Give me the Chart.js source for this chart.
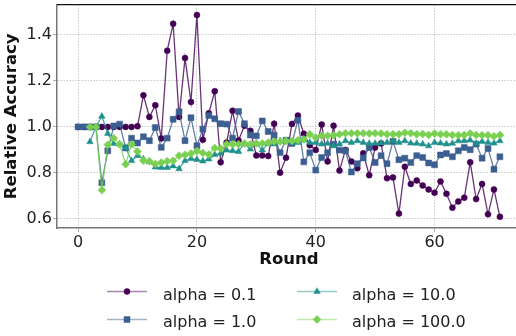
<!DOCTYPE html>
<html><head><meta charset="utf-8">
<script src="https://cdn.jsdelivr.net/npm/chart.js@4/dist/chart.umd.min.js"></script>
<style>html,body{margin:0;padding:0;background:#fff;overflow:hidden;width:516px;height:336px;}#wrap{width:516px;height:336px;overflow:hidden;position:relative;}canvas{display:block;}</style>
</head><body><div id="wrap"><canvas id="c" width="526" height="336"></canvas></div>
<script>
const rounds = [0,1,2,3,4,5,6,7,8,9,10,11,12,13,14,15,16,17,18,19,20,21,22,23,24,25,26,27,28,29,30,31,32,33,34,35,36,37,38,39,40,41,42,43,44,45,46,47,48,49,50,51,52,53,54,55,56,57,58,59,60,61,62,63,64,65,66,67,68,69,70,71];
const alpha01 = [1.0,1.0,1.0,1.0,1.0,1.0,1.0,1.0,1.0,1.0,
 1.003,1.137,1.043,1.094,0.95,1.331,1.448,1.043,1.299,1.108,
 1.486,0.944,1.059,1.155,0.846,0.932,1.07,0.941,1.005,0.983,
 0.876,0.876,0.873,1.014,0.801,0.866,1.013,1.049,0.97,0.92,
 0.9,1.01,0.85,1.005,0.81,0.9,0.85,0.82,0.885,0.79,
 0.91,0.928,0.777,0.78,0.623,0.827,0.752,0.767,0.745,0.728,
 0.714,0.763,0.709,0.649,0.676,0.692,0.846,0.686,0.752,0.62,
 0.728,0.609];
const alpha1 = [1.0,1.0,1.0,1.0,0.757,0.896,1.004,1.012,0.908,0.951,
 0.93,0.957,0.94,0.997,0.911,0.951,1.033,1.066,0.94,1.04,
 0.918,0.99,1.049,1.035,1.014,1.012,0.951,1.067,1.014,0.965,
 0.961,1.026,0.98,0.964,0.888,0.942,0.928,1.029,0.848,0.888,
 0.812,0.867,0.888,0.925,0.899,0.896,0.804,0.84,0.865,0.91,
 0.845,0.875,0.84,0.937,0.857,0.864,0.845,0.875,0.867,0.843,
 0.835,0.878,0.884,0.87,0.896,0.91,0.901,0.925,0.864,0.906,
 0.816,0.87];
const alpha10 = [null,null,0.935,1.0,1.046,0.971,0.927,0.925,0.91,0.853,
 0.875,0.86,0.848,0.825,0.823,0.823,0.83,0.818,0.853,0.862,
 0.858,0.851,0.86,0.879,0.885,0.899,0.896,0.893,0.928,0.903,
 0.928,0.899,0.928,0.925,0.939,0.936,0.932,0.932,0.942,0.932,
 0.932,0.925,0.928,0.917,0.925,0.939,0.932,0.939,0.932,0.928,
 0.928,0.93,0.932,0.939,0.932,0.939,0.929,0.928,0.925,0.917,
 0.932,0.929,0.925,0.928,0.939,0.939,0.942,0.928,0.936,0.932,
 0.929,0.939];
const alpha100 = [null,null,1.0,1.0,0.726,0.922,0.951,0.924,0.838,0.924,
 0.893,0.853,0.851,0.839,0.845,0.851,0.853,0.875,0.879,0.884,
 0.895,0.886,0.88,0.908,0.905,0.925,0.925,0.925,0.928,0.925,
 0.928,0.928,0.932,0.936,0.936,0.939,0.939,0.942,0.946,0.968,
 0.954,0.961,0.961,0.964,0.968,0.972,0.972,0.972,0.972,0.971,
 0.972,0.971,0.968,0.968,0.968,0.975,0.972,0.968,0.969,0.965,
 0.971,0.968,0.968,0.965,0.964,0.965,0.971,0.965,0.964,0.964,
 0.959,0.965];
const seriesLabels = ['alpha = 0.1','alpha = 1.0','alpha = 10.0','alpha = 100.0'];
const xTicks = [0,20,40,60];
const yTicks = [0.6,0.8,1.0,1.2,1.4];

const FONT = "'DejaVu Sans', 'Liberation Sans', sans-serif";
const styles = [
  {color:'#440154', line:'rgba(68,1,84,0.8)', point:'circle', r:3},
  {color:'#3b5f91', line:'rgba(59,95,145,0.8)', point:'rect', r:4.2},
  {color:'#21918c', line:'rgba(33,145,140,0.8)', point:'triangle', r:3.8},
  {color:'#7ad151', line:'rgba(122,209,81,0.8)', point:'rectRot', r:4}
];
const seriesData = [alpha01, alpha1, alpha10, alpha100];

const datasets = seriesData.map((vals,k)=>({
  label: seriesLabels[k],
  data: rounds.map((r,i)=>({x:r, y:vals[i]})),
  borderColor: styles[k].line,
  backgroundColor: styles[k].color,
  pointBackgroundColor: styles[k].color,
  pointBorderColor: styles[k].color,
  pointBorderWidth: 0.5,
  pointStyle: styles[k].point,
  pointRadius: styles[k].r,
  borderWidth: 1.3,
  tension: 0,
  spanGaps: false,
  order: 4-k
}));

const topSpine = {
  id:'topSpine',
  afterDraw(chart){
    const {ctx, chartArea:a} = chart;
    ctx.save();
    ctx.strokeStyle='#111'; ctx.lineWidth=1.3;
    ctx.beginPath(); ctx.moveTo(a.left, a.top); ctx.lineTo(a.right, a.top); ctx.stroke();
    ctx.restore();
  }
};

const customLegend = {
  id:'customLegend',
  afterDraw(chart){
    const ctx = chart.ctx;
    const pos = [
      {x0:107, x1:147, mx:127, tx:163, my:291.5, ty:299.5},
      {x0:107, x1:147, mx:127, tx:163, my:319.5, ty:327},
      {x0:297, x1:337, mx:317, tx:352, my:291.5, ty:299.5},
      {x0:297, x1:337, mx:317, tx:352, my:319.5, ty:327}
    ];
    ctx.save();
    pos.forEach((p,k)=>{
      const s = styles[k];
      ctx.strokeStyle = s.line; ctx.globalAlpha = 0.6; ctx.lineWidth = 1.5;
      ctx.beginPath(); ctx.moveTo(p.x0, p.my); ctx.lineTo(p.x1, p.my); ctx.stroke();
      ctx.globalAlpha = 1;
      ctx.fillStyle = s.color; ctx.strokeStyle = s.color; ctx.lineWidth = 0.5;
      Chart.helpers.drawPoint(ctx, {pointStyle:s.point, radius:s.r, borderWidth:0.5, rotation:0}, p.mx, p.my);
      ctx.fillStyle = '#222';
      ctx.font = "16px " + FONT;
      ctx.textAlign = 'left'; ctx.textBaseline = 'alphabetic';
      ctx.fillText(seriesLabels[k], p.tx, p.ty);
    });
    ctx.restore();
  }
};

new Chart(document.getElementById('c'), {
  type:'line',
  data:{datasets},
  plugins:[topSpine, customLegend],
  options:{
    responsive:false, devicePixelRatio:1, animation:false,
    layout:{padding:{top:3, right:5, bottom:58, left:0}},
    plugins:{legend:{display:false}, tooltip:{enabled:false}},
    scales:{
      x:{
        type:'linear', min:-3.55, max:74.55,
        afterBuildTicks: s => { s.ticks = xTicks.map(v=>({value:v})); },
        afterFit: s => { s.height = 50; s.paddingLeft = 0; s.paddingRight = 0; },
        ticks:{font:{family:FONT, size:16}, color:'#222', padding:1, maxRotation:0, callback:v=>String(v)},
        grid:{color:'#c8c8c8', lineWidth:1, tickLength:4, drawTicks:true, tickColor:'#aaa'},
        border:{display:true, color:'#777', width:1.5, dash:[1.5,1.5]},
        title:{display:true, text:'Round', color:'#111', font:{family:FONT, size:16.5, weight:'bold'}, padding:{top:0, bottom:8}}
      },
      y:{
        type:'linear', min:0.5605, max:1.531,
        afterBuildTicks: s => { s.ticks = yTicks.map(v=>({value:v})); },
        afterFit: s => { s.width = 57; s.paddingTop = 0; s.paddingBottom = 0; },
        ticks:{font:{family:FONT, size:16}, color:'#222', padding:1, callback:v=>Number(v).toFixed(1)},
        grid:{color:'#c8c8c8', lineWidth:1, tickLength:4, drawTicks:true, tickColor:'#aaa'},
        border:{display:true, color:'#777', width:1.5, dash:[1.5,1.5]},
        title:{display:true, text:'Relative Accuracy', color:'#111', font:{family:FONT, size:16.5, weight:'bold'}, padding:{top:2, bottom:0}}
      }
    }
  }
});
</script>
</body></html>
